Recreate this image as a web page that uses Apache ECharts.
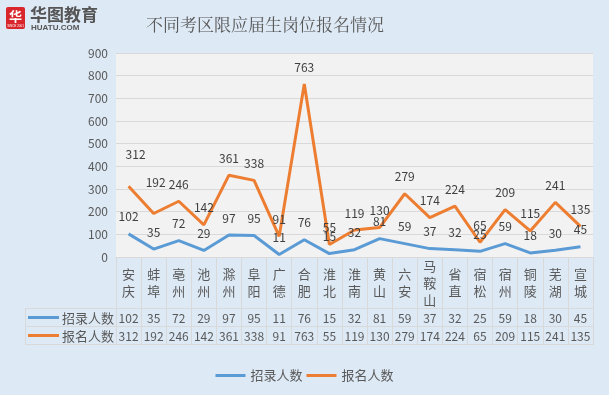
<!DOCTYPE html>
<html>
<head>
<meta charset="utf-8">
<script src="https://cdn.jsdelivr.net/npm/echarts@6/dist/echarts.min.js"></script>
<style>
html,body{margin:0;padding:0;background:#dde9f5;}
#c{width:609px;height:395px;}
</style>
</head>
<body>
<div id="c"></div>
<script>
var categories = ['安庆','蚌埠','亳州','池州','滁州','阜阳','广德','合肥','淮北','淮南','黄山','六安','马鞍山','省直','宿松','宿州','铜陵','芜湖','宣城'];
var hiring = [102,35,72,29,97,95,11,76,15,32,81,59,37,32,25,59,18,30,45];
var applicants = [312,192,246,142,361,338,91,763,55,119,130,279,174,224,65,209,115,241,135];
var seriesNames = ['招录人数','报名人数'];
var yTicks = {min:0, max:900, interval:100};
var chartTitle = '不同考区限应届生岗位报名情况';

var BLUE = '#5b9bd5', ORANGE = '#ed7d31', TXT = '#595959', GRIDC = '#d9d9d9';
var FONT = '"Noto Sans CJK SC", "Liberation Sans", sans-serif';
// label nudges (style only) for leader-lined Excel labels
var orangeNudge = {0:[7,-15], 1:[2,-14]};

var chart = echarts.init(document.getElementById('c'), null, {renderer:'canvas'});

var orangeData = applicants.map(function(v,i){
  var item = {value:v};
  if (orangeNudge[i]) item.label = {offset: orangeNudge[i]};
  return item;
});

var option = {
  backgroundColor: '#dde9f5',
  textStyle: {fontFamily: FONT},
  animation: false,
  title: {
    text: chartTitle,
    left: 141, top: 11,
    textStyle: {fontFamily: '"Noto Serif CJK SC", "Noto Sans CJK SC", serif', fontSize: 17, fontWeight: 'normal', color: TXT}
  },
  legend: {
    data: seriesNames,
    left: 'center', top: 364,
    icon: 'rect', itemWidth: 30, itemHeight: 3, itemGap: 4,
    textStyle: {color: TXT, fontSize: 13, fontFamily: FONT}
  },
  grid: {
    left: 116, right: 16, top: 53, bottom: 138,
    show: true, backgroundColor: '#f2f2f2', borderWidth: 0
  },
  xAxis: [
    {
      type: 'category', data: categories, position: 'bottom', boundaryGap: true,
      axisLine: {show: true, lineStyle: {color: GRIDC}},
      axisTick: {show: true, length: 88, interval: 0, lineStyle: {color: GRIDC}},
      axisLabel: {
        interval: 0, margin: 26, verticalAlign: 'middle', color: TXT, fontSize: 13, lineHeight: 17,
        formatter: function(v){ return v.split('').join('\n'); }
      }
    },
    {
      type: 'category', data: hiring.map(String), position: 'bottom', offset: 51,
      axisLine: {show: true, lineStyle: {color: GRIDC}},
      axisTick: {show: false},
      axisLabel: {interval: 0, margin: 10, verticalAlign: 'middle', color: TXT, fontSize: 12}
    },
    {
      type: 'category', data: applicants.map(String), position: 'bottom', offset: 69,
      axisLine: {show: true, lineStyle: {color: GRIDC}},
      axisTick: {show: false},
      axisLabel: {interval: 0, margin: 10, verticalAlign: 'middle', color: TXT, fontSize: 12}
    },
    {
      type: 'category', data: categories, position: 'bottom', offset: 87,
      axisLine: {show: true, lineStyle: {color: GRIDC}},
      axisTick: {show: false},
      axisLabel: {show: false}
    }
  ],
  yAxis: {
    type: 'value', min: yTicks.min, max: yTicks.max, interval: yTicks.interval,
    axisLine: {show: false}, axisTick: {show: false},
    splitLine: {lineStyle: {color: GRIDC}},
    axisLabel: {color: TXT, fontSize: 12, margin: 8}
  },
  series: [
    {
      name: seriesNames[0], type: 'line', data: hiring, xAxisIndex: 0,
      symbol: 'circle', symbolSize: 0.1, showSymbol: true,
      lineStyle: {color: BLUE, width: 3}, itemStyle: {color: BLUE},
      label: {show: true, position: 'top', distance: 11, color: '#404040', fontSize: 12}
    },
    {
      name: seriesNames[1], type: 'line', data: orangeData, xAxisIndex: 0,
      symbol: 'circle', symbolSize: 0.1, showSymbol: true,
      lineStyle: {color: ORANGE, width: 3}, itemStyle: {color: ORANGE},
      label: {show: true, position: 'top', distance: 11, color: '#404040', fontSize: 12}
    }
  ],
  graphic: [
    // logo
    {type:'rect', shape:{x:6, y:7, width:19, height:22, r:2}, style:{fill:'#d8262c'}},
    {type:'text', style:{x:15.5, y:16, text:'华', fill:'#fff', font:'bold 13px "Noto Sans CJK SC"', align:'center', verticalAlign:'middle'}},
    {type:'text', style:{x:15.5, y:26, text:'SINCE 2001', fill:'#fff', font:'3px "Liberation Sans"', align:'center', verticalAlign:'middle'}},
    {type:'text', style:{x:30, y:15, text:'华图教育', fill:'#555', font:'bold 17px "Noto Sans CJK SC"', verticalAlign:'middle'}},
    {type:'text', style:{x:31, y:27.5, text:'HUATU.COM', fill:'#555', font:'bold 8px "Liberation Sans"', verticalAlign:'middle'}},
    // table header column
    {type:'line', shape:{x1:25, y1:308.5, x2:116, y2:308.5}, style:{stroke:GRIDC, lineWidth:1}},
    {type:'line', shape:{x1:25, y1:326.5, x2:116, y2:326.5}, style:{stroke:GRIDC, lineWidth:1}},
    {type:'line', shape:{x1:25, y1:344.5, x2:116, y2:344.5}, style:{stroke:GRIDC, lineWidth:1}},
    {type:'line', shape:{x1:25.5, y1:308, x2:25.5, y2:345}, style:{stroke:GRIDC, lineWidth:1}},
    {type:'line', shape:{x1:28, y1:317.5, x2:59, y2:317.5}, style:{stroke:BLUE, lineWidth:3}},
    {type:'line', shape:{x1:28, y1:335.5, x2:59, y2:335.5}, style:{stroke:ORANGE, lineWidth:3}},
    {type:'text', style:{x:62, y:318, text:seriesNames[0], fill:TXT, font:'13px "Noto Sans CJK SC"', verticalAlign:'middle'}},
    {type:'text', style:{x:62, y:336, text:seriesNames[1], fill:TXT, font:'13px "Noto Sans CJK SC"', verticalAlign:'middle'}}
  ]
};
chart.setOption(option);
</script>
</body>
</html>
